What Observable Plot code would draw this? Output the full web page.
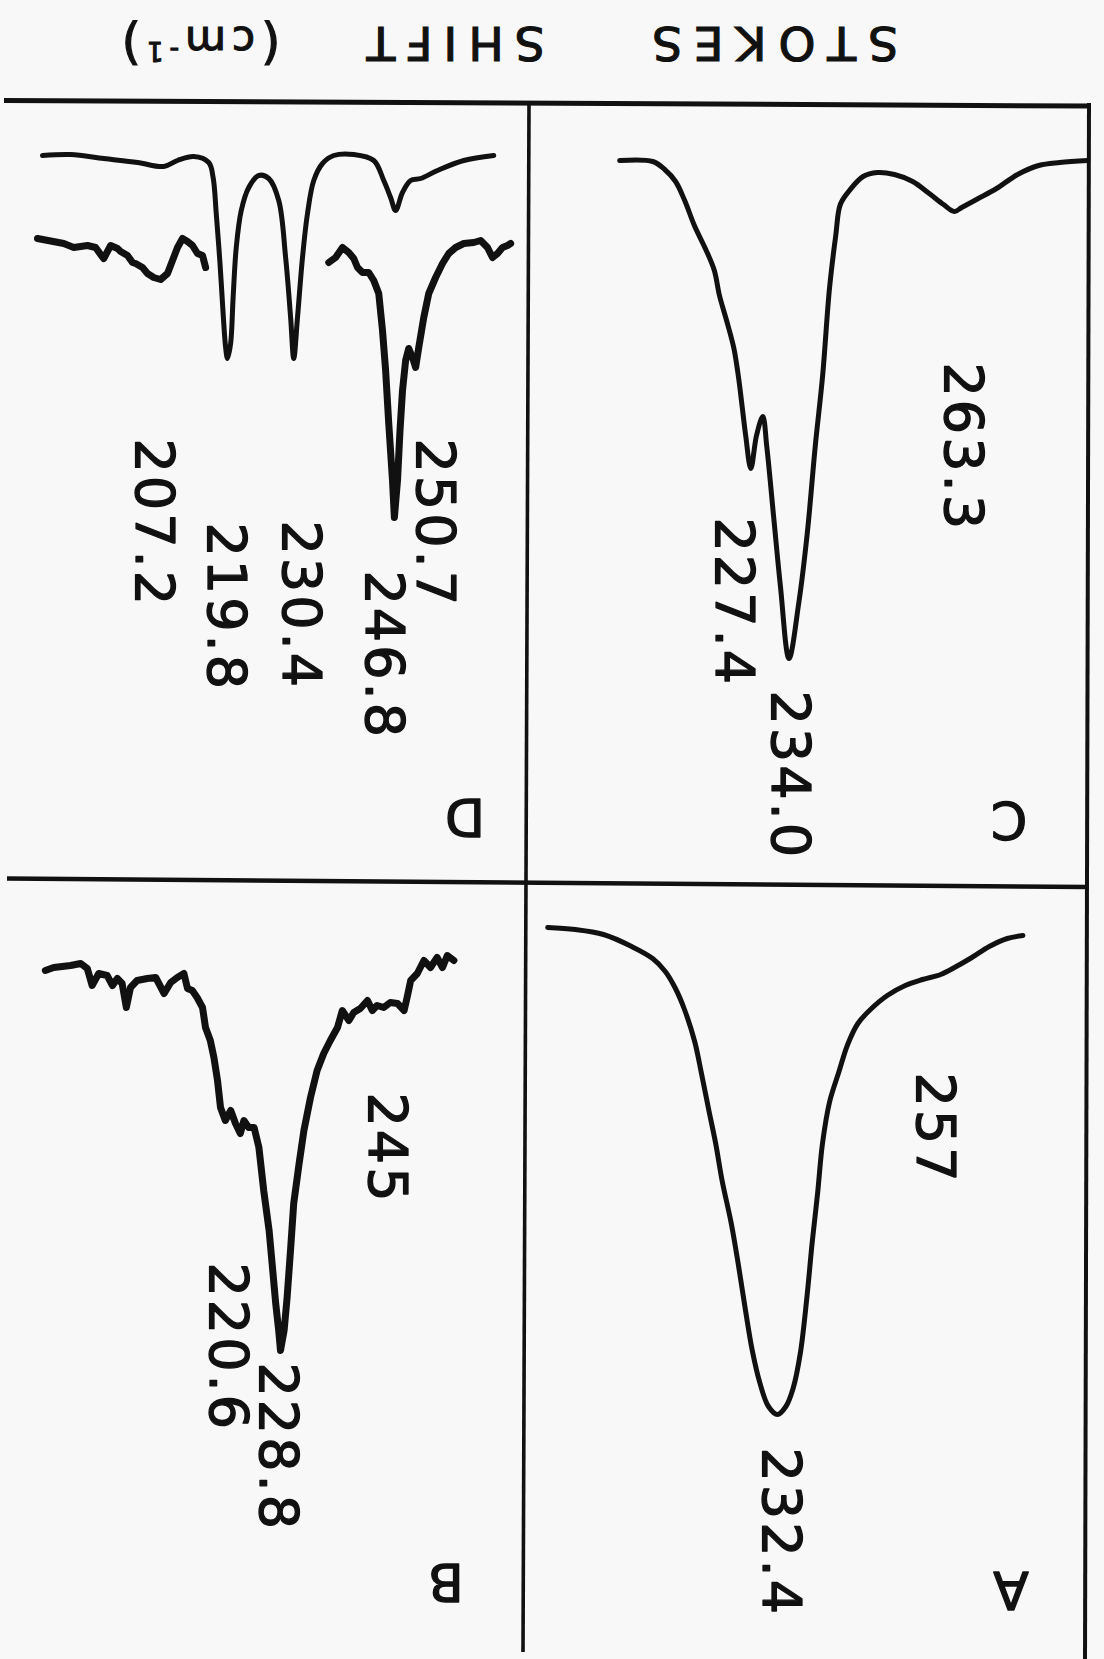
<!DOCTYPE html>
<html>
<head>
<meta charset="utf-8">
<script src="https://cdn.jsdelivr.net/npm/d3@7"></script>
<script src="https://cdn.jsdelivr.net/npm/@observablehq/plot@0.6"></script>
<style>
  html, body { margin: 0; padding: 0; background: #f8f8f8; }
  #fig { position: relative; width: 1104px; height: 1659px; overflow: hidden; background: #f8f8f8; font-family: "DejaVu Sans", sans-serif; }
  .panel { position: absolute; }
  .panel svg { display: block; overflow: visible; background: transparent; }
  .panel svg text { letter-spacing: 3px; }
  .overlay { position: absolute; left: 0; top: 0; }
</style>
</head>
<body>
<div id="fig"></div>
<script>
// ---------------- data (Stokes shift in cm-1, intensity in arbitrary units) ----------------
const titleParts = ["STOKES", "SHIFT", "(cm", "-1", ")"];
const panelLetters = ["A", "B", "C", "D"];

// Panel A
const shiftA = [194.1,198.7,203.4,208.1,211.6,213.7,215.4,216.9,218.6,219.7,220.9,222.1,223.2,224.7,225.9,227.1,228.2,229.4,230.9,232.4,233.8,235.0,236.2,237.3,238.2,239.1,239.9,241.1,242.6,244.1,245.8,247.9,250.7,253.7,256.6,259.6,261.9,264.8,267.7,270.7,273.3];
const intensityA = [44,46,51,63,75,88,105,126,158,189,225,260,298,340,382,428,467,498,523,531,523,505,470,414,358,309,260,218,189,161,140,126,112,102,96,91,84,74,63,55,52];
const peaksA = ["257", "232.4"];

// Panel B
const shiftB = [189.6,191.0,193.8,195.5,196.6,197.4,198.5,199.9,200.8,201.6,202.4,203.1,203.8,204.9,206.6,208.0,209.4,210.5,211.6,212.7,213.3,214.1,214.9,215.8,216.3,217.1,217.7,218.3,218.8,219.6,220.5,221.3,222.1,222.7,223.5,224.4,225.2,226.0,226.9,227.4,228.0,228.5,228.8,229.4,229.9,230.5,231.0,231.9,232.7,233.8,234.9,236.0,237.1,238.3,239.1,240.2,241.0,242.1,243.3,244.1,244.9,246.0,247.1,248.3,249.4,249.9,250.5,251.6,252.7,253.8,254.9,255.8,256.6,257.7];
const intensityB = [87,84,82,80,85,102,90,92,102,95,100,124,104,97,95,94,110,99,94,90,105,107,114,124,144,157,174,197,224,237,227,240,250,237,244,244,264,307,347,380,420,447,467,447,414,364,320,280,247,214,187,170,157,144,127,137,129,125,117,127,122,124,119,120,127,114,97,90,77,84,74,84,72,77];
const peaksB = ["245", "220.6", "228.8"];

// Panel C
const shiftC = [204.3,210.1,212.2,214.1,215.7,217.4,219.4,220.9,221.8,223.0,224.3,225.1,225.8,226.4,227.3,228.3,229.4,230.1,231.3,232.5,234.0,235.7,237.2,238.6,239.9,241.1,242.2,243.0,244.6,247.0,249.5,252.5,255.7,258.6,261.1,263.0,264.3,267.2,270.4,274.1,277.8,281.5,286.4];
const intensityC = [57,58,66,78,97,122,146,167,192,216,244,272,304,332,365,332,313,343,413,483,555,500,430,343,272,185,132,101,87,73,69,71,78,90,101,108,104,95,85,71,62,59,57];
const peaksC = ["263.3", "227.4", "234.0"];

// Panel D, smooth trace
const shiftD1 = [190.2,194.7,200.0,205.4,209.6,211.8,214.4,216.8,217.5,218.0,218.6,219.1,219.5,219.8,220.3,220.7,221.2,222.0,223.2,224.8,226.4,228.0,229.1,229.9,230.4,231.0,231.8,232.6,233.6,235.0,236.8,240.0,243.2,244.8,245.9,246.7,247.8,249.1,250.7,253.4,257.6,262.4];
const intensityD1 = [52,51,55,59,63,57,53,59,74,110,160,210,244,255,240,194,144,107,84,72,75,97,154,214,255,214,154,110,77,60,52,51,57,77,94,107,89,77,75,67,57,52];
// Panel D, noisy trace (two recorded segments)
const shiftD2a = [189.4,193.6,195.2,197.4,198.7,199.5,200.0,201.1,202.2,202.7,203.8,204.6,205.1,206.2,207.0,208.0,209.1,210.2,211.0,211.8,212.6,213.4,214.2,215.0,215.8,216.3];
const intensityD2a = [135,140,144,142,144,151,155,142,145,148,152,159,160,164,170,174,176,170,157,144,135,138,142,150,152,164];
const shiftD2b = [236.0,237.1,238.2,239.2,240.0,240.6,241.4,242.4,243.2,244.0,244.6,245.1,245.6,246.2,246.5,247.0,247.4,247.8,248.3,248.8,249.4,249.9,250.4,251.2,252.0,253.1,254.2,255.2,256.3,257.6,259.2,260.3,261.4,262.2,263.0,263.8,264.6,265.1];
const intensityD2b = [159,154,144,149,155,164,169,169,177,190,227,267,320,377,414,377,327,287,257,245,254,264,244,214,190,174,160,150,144,140,139,137,144,154,150,144,142,140];
const peaksD = ["250.7", "246.8", "230.4", "219.8", "207.2"];

// ---------------- layout & style ----------------
const ink = "#111";
const FONT = "DejaVu Sans";
const fig = document.getElementById("fig");
const SVGNS = "http://www.w3.org/2000/svg";

// label placement (pixel nudges and anchor height in intensity units)
const labelLayout = {
  A: [{dx: 9, y: 189}, {dx: 3, y: 564}],
  B: [{dx: 9, y: 209}, {dx: -4, y: 379}, {dx: -3, y: 479}],
  C: [{dx: 6, y: 259}, {dx: -18, y: 414}, {dx: 0, y: 587}],
  D: [{dx: 14, y: 335}, {dx: -13, y: 467}, {dx: 7, y: 417}, {dx: -2, y: 419}, {dx: 5, y: 335}]
};

const panels = [
  {letter: panelLetters[0], left: 526, top: 883, width: 564, height: 776, domain: [190.57, 284.57],
   traces: [{shift: shiftA, intensity: intensityA}], peaks: peaksA, layout: labelLayout.A, ldx: -81, ldy: -71},
  {letter: panelLetters[1], left: 0, top: 883, width: 526, height: 776, domain: [182.13, 269.8],
   traces: [{shift: shiftB, intensity: intensityB, noisy: true}], peaks: peaksB, layout: labelLayout.B, ldx: -82, ldy: -79},
  {letter: panelLetters[2], left: 526, top: 103, width: 564, height: 780, domain: [187.95, 286.89],
   traces: [{shift: shiftC, intensity: intensityC}], peaks: peaksC, layout: labelLayout.C, ldx: -83, ldy: -65},
  {letter: panelLetters[3], left: 0, top: 103, width: 526, height: 780, domain: [183.48, 267.64],
   traces: [{shift: shiftD1, intensity: intensityD1},
            {shift: shiftD2a, intensity: intensityD2a, noisy: true},
            {shift: shiftD2b, intensity: intensityD2b, noisy: true}],
   peaks: peaksD, layout: labelLayout.D, ldx: -63, ldy: -68}
];

for (const p of panels) {
  const marks = [];
  for (const t of p.traces) {
    const data = t.shift.map((s, i) => ({shift: s, intensity: t.intensity[i]}));
    marks.push(Plot.line(data, {
      x: "shift", y: "intensity", stroke: ink,
      strokeWidth: t.noisy ? 7 : 5,
      curve: t.noisy ? "linear" : "catmull-rom",
      strokeLinejoin: "round", strokeLinecap: "round"
    }));
  }
  p.peaks.forEach((txt, i) => {
    const lay = p.layout[i];
    marks.push(Plot.text([txt], {
      x: d => +d, y: [lay.y], text: d => d,
      rotate: 90, textAnchor: "start", lineAnchor: "middle",
      fontSize: 54, fontFamily: FONT, fill: ink, stroke: ink, strokeWidth: 1.3, dx: lay.dx
    }));
  });
  marks.push(Plot.text([p.letter], {
    frameAnchor: "bottom-right", text: d => d, rotate: 180,
    textAnchor: "middle", lineAnchor: "middle",
    fontSize: 52, fontFamily: FONT, fill: ink, stroke: ink, strokeWidth: 1.3, dx: p.ldx, dy: p.ldy
  }));
  const svg = Plot.plot({
    width: p.width, height: p.height, margin: 0,
    x: {domain: p.domain, range: [0, p.width], axis: null},
    y: {domain: [0, p.height], range: [0, p.height], axis: null},
    style: {background: "transparent", overflow: "visible"},
    marks
  });
  const div = document.createElement("div");
  div.className = "panel";
  div.style.left = p.left + "px";
  div.style.top = p.top + "px";
  div.appendChild(svg);
  fig.appendChild(div);
}

// frame rules (decorative)
const frame = document.createElementNS(SVGNS, "svg");
frame.setAttribute("width", 1104); frame.setAttribute("height", 1659);
frame.setAttribute("class", "overlay");
const rules = [
  [4, 100.5, 1090, 106, 5],
  [1089, 103, 1085, 1659, 4],
  [529, 104, 523, 1652, 3.6],
  [7, 878.5, 1087, 887, 4.5]
];
for (const [x1, y1, x2, y2, w] of rules) {
  const l = document.createElementNS(SVGNS, "line");
  l.setAttribute("x1", x1); l.setAttribute("y1", y1);
  l.setAttribute("x2", x2); l.setAttribute("y2", y2);
  l.setAttribute("stroke", ink); l.setAttribute("stroke-width", w);
  frame.appendChild(l);
}
fig.appendChild(frame);

// axis title, printed upside down like the reference
const title = document.createElementNS(SVGNS, "svg");
title.setAttribute("width", 1104); title.setAttribute("height", 90);
title.setAttribute("class", "overlay");
const g = document.createElementNS(SVGNS, "g");
g.setAttribute("transform", "rotate(180 552 45)");
g.setAttribute("font-family", FONT);
g.setAttribute("fill", ink);
g.setAttribute("stroke", ink);
g.setAttribute("stroke-width", 1.2);
function addText(x, ls, parts) {
  const t = document.createElementNS(SVGNS, "text");
  t.setAttribute("x", x); t.setAttribute("y", 63);
  t.setAttribute("font-size", 47);
  t.setAttribute("letter-spacing", ls);
  t.setAttribute("text-anchor", "middle");
  for (const [txt, attrs] of parts) {
    const s = document.createElementNS(SVGNS, "tspan");
    for (const k in attrs) s.setAttribute(k, attrs[k]);
    s.textContent = txt;
    t.appendChild(s);
  }
  g.appendChild(t);
}
addText(335, 12, [[titleParts[0], {}]]);
addText(654, 11, [[titleParts[1], {}]]);
addText(906, 6, [
  [titleParts[2][0], {"font-size": 50}],
  [titleParts[2].slice(1), {"font-size": 42}],
  [titleParts[3], {"font-size": 26, dy: -15}],
  [titleParts[4], {"font-size": 50, dy: 15}]
]);
title.appendChild(g);
fig.appendChild(title);
</script>
</body>
</html>
